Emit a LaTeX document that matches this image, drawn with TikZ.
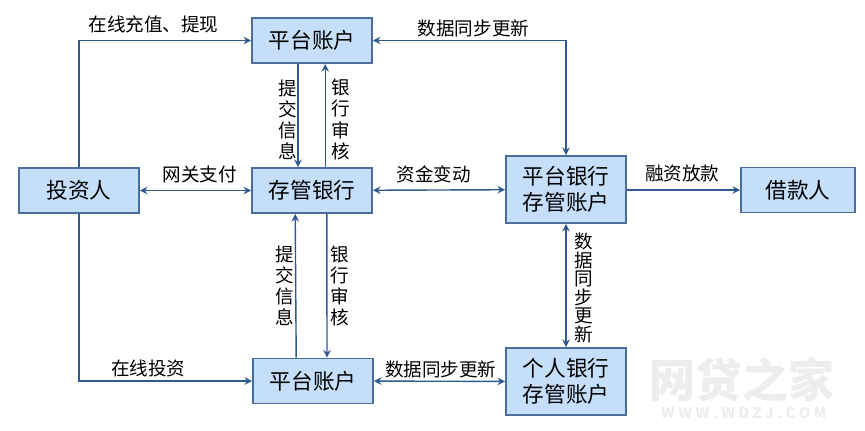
\documentclass[tikz,border=0pt]{standalone}
\usepackage{fontspec}
\setmainfont{Noto Sans CJK SC}
\usepackage{tikz}
\usetikzlibrary{positioning,arrows.meta,calc}

\definecolor{boxfill}{HTML}{C5DFFA}
\definecolor{boxline}{HTML}{4A6F9E}
\definecolor{flowline}{HTML}{2F5A8F}
\definecolor{markgray}{HTML}{EDEDED}

\tikzset{
	acct/.style={rectangle, draw=boxline, line width=1.2pt, fill=boxfill, minimum width=3cm, minimum height=1.13cm, inner sep=0pt, font=\fontsize{15.4}{18.5}\selectfont, align=center},
	tallacct/.style={acct, minimum height=1.68cm},
	tag/.style={inner sep=0pt, text=black, font=\fontsize{13.2}{15}\selectfont, align=center},
	tagtight/.style={tag, font=\fontsize{13.2}{13.2}\selectfont},
	flow/.style={line width=1pt, flowline, -{Stealth[length=1.9mm,width=1.9mm]}},
	flowboth/.style={line width=1pt, flowline, {Stealth[length=1.9mm,width=1.9mm]}-{Stealth[length=1.9mm,width=1.9mm]}}
}

\begin{document}
\begin{tikzpicture}[x=0.025cm, y=-0.025cm]

\useasboundingbox (0,0) rectangle (865,431);

\node[inner sep=0pt, text=markgray, font=\fontsize{32.8}{33}\selectfont\bfseries] (markname) at (742,380) {网贷之家};
\node[inner sep=0pt, text=markgray, font=\fontsize{10.5}{11}\selectfont\bfseries] (markurl) at (744,413) {W W W . W D Z J . C O M};

\node[acct] (investor) at (79,190.5) {投资人};
\node[acct] (toppf) at (312,40.5) {平台账户};
\node[acct] (bank) at (312,190.5) {存管银行};
\node[acct] (lowpf) at (313,381) {平台账户};
\node[tallacct] (pfbank) at (566,189.5) {平台银行\\存管账户};
\node[tallacct] (perbank) at (566,381.5) {个人银行\\存管账户};
\node[acct, minimum width=2.85cm] (borrower) at (798,190) {借款人};

\coordinate (corner1) at (79,40.5);
\coordinate (corner2) at (79,381);
\coordinate (corner3) at (566,40.5);

\draw[flow] (investor.north) -- (corner1) -- (toppf.west) node[tag, pos=0.433, yshift=0.41cm] (t1) {在线充值、提现};
\draw[flow] (investor.south) -- (corner2) -- (lowpf.west) node[tag, pos=0.4, yshift=0.32cm] (t2) {在线投资};
\draw[flowboth] (investor) -- node[tag, pos=0.54, yshift=0.41cm] (t3) {网关支付} (bank);
\draw[flowboth] (bank) -- node[tag, pos=0.46, yshift=0.39cm] (t4) {资金变动} (pfbank);
\draw[flow] (pfbank.east |- borrower) -- node[tag, pos=0.49, yshift=0.41cm] (t5) {融资放款} (borrower);
\draw[flowboth] (toppf.east) -- (corner3) -- (pfbank.north);
\node[tag] (t6) at (473.5,28) {数据同步更新};
\draw[flowboth] (lowpf) -- node[tag, pos=0.51, yshift=0.3cm] (t7) {数据同步更新} (perbank);
\draw[flowboth] (pfbank) -- node[tagtight, xshift=0.45cm, yshift=-0.06cm] (t8) {数\\据\\同\\步\\更\\新} (perbank);

\draw[flow] ([xshift=-0.35cm]toppf.south) -- node[tag, xshift=-0.25cm, yshift=-0.1cm] (t9) {提\\交\\信\\息} ([xshift=-0.35cm]bank.north);
\draw[flow] ([xshift=0.33cm]bank.north) -- node[tag, xshift=0.39cm, yshift=-0.1cm] (t10) {银\\行\\审\\核} ([xshift=0.33cm]toppf.south);
\draw[flow] ([xshift=-0.42cm]lowpf.north) -- node[tag, xshift=-0.275cm] (t11) {提\\交\\信\\息} ([xshift=-0.42cm]bank.south);
\draw[flow] ([xshift=0.37cm]bank.south) -- node[tag, xshift=0.31cm] (t12) {银\\行\\审\\核} ([xshift=0.35cm]lowpf.north);

\end{tikzpicture}
\end{document}
